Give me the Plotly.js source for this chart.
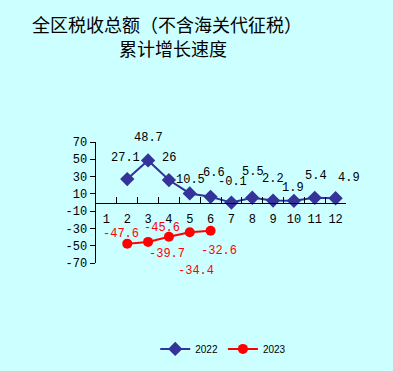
<!DOCTYPE html>
<html><head><meta charset="utf-8">
<script src="https://cdn.plot.ly/plotly-3.0.1.min.js"></script>
<style>html,body{margin:0;padding:0;background:#ccffff;}#chart{width:393px;height:371px;}</style>
</head><body><div id="chart"></div>
<script>
const months = ['1','2','3','4','5','6','7','8','9','10','11','12'];
const values2022 = [null, 27.1, 48.7, 26, 10.5, 6.6, -0.1, 5.5, 2.2, 1.9, 5.4, 4.9];
const values2023 = [null, -47.6, -45.6, -39.7, -34.4, -32.6, null, null, null, null, null, null];
const labels2022 = [null, '27.1', '48.7', '26', '10.5', '6.6', '-0.1', '5.5', '2.2', '1.9', '5.4', '4.9'];
const labels2023 = [null, '-47.6', '-45.6', '-39.7', '-34.4', '-32.6', null, null, null, null, null, null];
const yTickVals = [70, 50, 30, 10, -10, -30, -50, -70];
const yTickText = ['70', '50', '30', '10', '-10', '-30', '-50', '-70'];
const titleLine1 = '全区税收总额（不含海关代征税）';
const titleLine2 = '累计增长速度';

// label offsets (style only)
const off2022 = [null,[-2,21],[0,22],[0,22],[1,13],[3,24],[1,21],[1,26],[0,22],[-1,13],[1,22],[13,20]];
const off2023 = [null,[-6,10],[14,14],[-2,-17],[6,-39],[8,-20]];

const labFont = {family: 'Liberation Mono, monospace', size: 12};
const annotations = [];
months.forEach((m, i) => {
  if (labels2022[i] !== null) annotations.push({x: i, y: values2022[i], xref: 'x', yref: 'y', text: labels2022[i], showarrow: false,
    xshift: off2022[i][0], yshift: off2022[i][1], font: Object.assign({color: '#000000'}, labFont)});
  if (labels2023[i] !== null) annotations.push({x: i, y: values2023[i], xref: 'x', yref: 'y', text: labels2023[i], showarrow: false,
    xshift: off2023[i][0], yshift: off2023[i][1], font: Object.assign({color: '#ff0000'}, labFont)});
});
// second title line (plot-area fraction coordinates)
annotations.push({x: (173 - 96) / 250, y: (263 - 48) / 121, xref: 'paper', yref: 'paper', xanchor: 'center', yanchor: 'middle',
  text: titleLine2, showarrow: false, font: {family: 'Noto Sans CJK SC', size: 18, color: '#000000'}});

const traces = [
  {x: months, y: values2022, name: '2022', type: 'scatter', mode: 'lines+markers',
   line: {color: '#333399', width: 2}, marker: {symbol: 'diamond', size: 11, color: '#333399'}},
  {x: months, y: values2023, name: '2023', type: 'scatter', mode: 'lines+markers',
   line: {color: '#ff0000', width: 2}, marker: {symbol: 'circle', size: 10, color: '#ff0000'}}
];

const layout = {
  width: 393, height: 371,
  paper_bgcolor: '#ccffff', plot_bgcolor: 'rgba(0,0,0,0)',
  margin: {l: 96, r: 47, t: 142, b: 108, autoexpand: false},
  title: {text: titleLine1, x: 167/393, xanchor: 'center', y: 1 - 26/371, yanchor: 'middle', xref: 'container', yref: 'container',
    font: {family: 'Noto Sans CJK SC', size: 18, color: '#000000'}},
  xaxis: {type: 'category', anchor: 'free', position: 0.5, showline: true, linecolor: '#000000', linewidth: 1.5,
    ticks: 'inside', ticklen: 6, tickcolor: '#000000', tickson: 'boundaries', showgrid: false, zeroline: false,
    tickangle: 0, tickfont: {family: 'Liberation Mono, monospace', size: 12, color: '#000000'}, ticklabelstandoff: 5,
    range: [-0.5, 11.5], fixedrange: true, automargin: false},
  yaxis: {range: [-70, 70], tickvals: yTickVals, ticktext: yTickText, showline: true, linecolor: '#000000', linewidth: 1.5,
    ticks: 'outside', ticklen: 5, tickcolor: '#000000', showgrid: false, zeroline: false, automargin: false,
    tickfont: {family: 'Liberation Mono, monospace', size: 12, color: '#000000'}},
  showlegend: true,
  legend: {orientation: 'h', x: 200/393, xanchor: 'center', y: -0.71, yanchor: 'middle', bgcolor: 'rgba(0,0,0,0)',
    font: {family: 'Liberation Sans, Arial', size: 10, color: '#000000'}},
  annotations: annotations
};
Plotly.newPlot('chart', traces, layout, {displayModeBar: false, staticPlot: true});
</script></body></html>
